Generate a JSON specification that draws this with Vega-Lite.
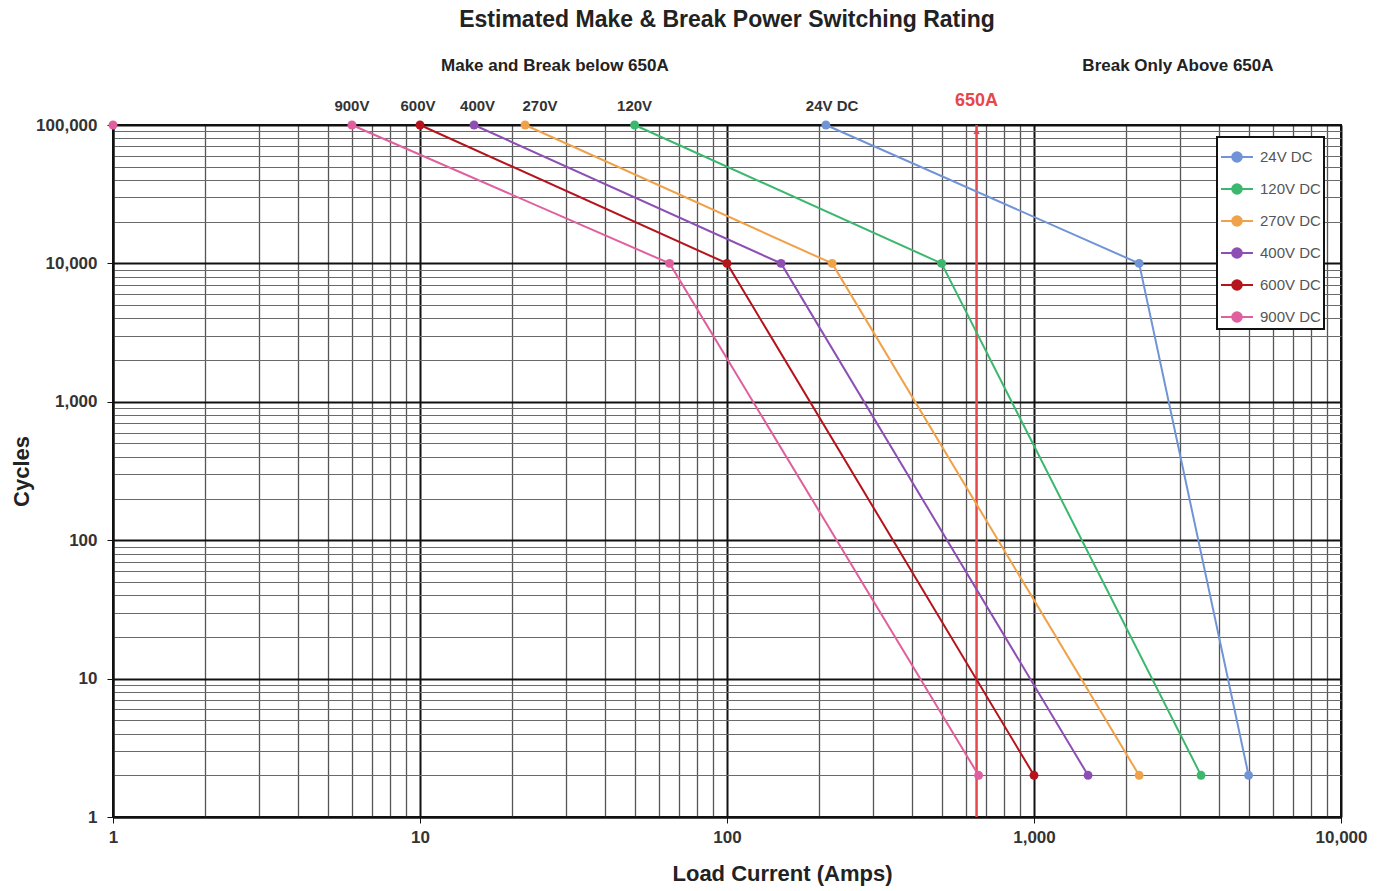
{
  "$schema": "https://vega.github.io/schema/vega-lite/v6.json",
  "width": 1228,
  "height": 692,
  "autosize": {"type": "none"},
  "padding": {"left": 113, "top": 125, "right": 46, "bottom": 74},
  "title": {"text": "Estimated Make & Break Power Switching Rating", "fontSize": 23, "font": "Liberation Sans", "fontWeight": "bold", "color": "#222", "offset": 25},
  "config": {
    "font": "Liberation Sans",
    "view": {"stroke": "#111", "strokeWidth": 2},
    "axis": {
      "labelFont": "Liberation Sans", "labelFontWeight": "bold", "labelColor": "#333", "labelFontSize": 17,
      "titleFont": "Liberation Sans", "titleFontWeight": "bold", "titleColor": "#222", "titleFontSize": 22,
      "domainColor": "#111", "domainWidth": 2, "tickColor": "#111", "tickSize": 6,
      "labelOverlap": false, "labelBound": false, "labelFlush": false
    }
  },
  "datasets": {
    "series": [
      {"s": "24V DC", "x": 210, "y": 100000}, {"s": "24V DC", "x": 2200, "y": 10000}, {"s": "24V DC", "x": 5000, "y": 2},
      {"s": "120V DC", "x": 50, "y": 100000}, {"s": "120V DC", "x": 500, "y": 10000}, {"s": "120V DC", "x": 3500, "y": 2},
      {"s": "270V DC", "x": 22, "y": 100000}, {"s": "270V DC", "x": 220, "y": 10000}, {"s": "270V DC", "x": 2200, "y": 2},
      {"s": "400V DC", "x": 15, "y": 100000}, {"s": "400V DC", "x": 150, "y": 10000}, {"s": "400V DC", "x": 1500, "y": 2},
      {"s": "600V DC", "x": 10, "y": 100000}, {"s": "600V DC", "x": 100, "y": 10000}, {"s": "600V DC", "x": 1000, "y": 2},
      {"s": "900V DC", "x": 6, "y": 100000}, {"s": "900V DC", "x": 65, "y": 10000}, {"s": "900V DC", "x": 660, "y": 2}
    ],
    "extra": [{"x": 1, "y": 100000}],
    "limit": [{"x": 650, "y": 1}, {"x": 650, "y": 100000}],
    "arrow": [{"x": 650, "y": 90000}],
    "vlabels": [
      {"t": "900V", "x": 6, "y": 100000},
      {"t": "600V", "x": 9.85, "y": 100000},
      {"t": "400V", "x": 15.4, "y": 100000},
      {"t": "270V", "x": 24.6, "y": 100000},
      {"t": "120V", "x": 50, "y": 100000},
      {"t": "24V DC", "x": 220, "y": 100000}
    ],
    "headers": [
      {"t": "Make and Break below 650A", "x": 27.5, "y": 100000},
      {"t": "Break Only Above 650A", "x": 2944, "y": 100000}
    ],
    "limitlabel": [{"t": "650A", "x": 650, "y": 100000}]
  },
  "encoding": {
    "x": {
      "field": "x", "type": "quantitative",
      "scale": {"type": "log", "domain": [1, 10000], "nice": false},
      "axis": {
        "title": "Load Current (Amps)", "titlePadding": 18, "labelPadding": 6, "titleX": 669, "titleAlign": "center",
        "values": [1,2,3,4,5,6,7,8,9,10,20,30,40,50,60,70,80,90,100,200,300,400,500,600,700,800,900,1000,2000,3000,4000,5000,6000,7000,8000,9000,10000],
        "labelExpr": "indexof([1,10,100,1000,10000], datum.value) >= 0 ? format(datum.value, ',') : ''",
        "tickOpacity": {"condition": {"test": "indexof([1,10,100,1000,10000], datum.value) >= 0", "value": 1}, "value": 0},
        "gridColor": {"condition": {"test": "indexof([1,10,100,1000,10000], datum.value) >= 0", "value": "#111"}, "value": "#555"},
        "gridWidth": {"condition": {"test": "indexof([1,10,100,1000,10000], datum.value) >= 0", "value": 2}, "value": 1.3},
        "gridOpacity": 1
      }
    },
    "y": {
      "field": "y", "type": "quantitative",
      "scale": {"type": "log", "domain": [1, 100000], "nice": false},
      "axis": {
        "title": "Cycles", "titlePadding": 2, "labelPadding": 10,
        "values": [1,2,3,4,5,6,7,8,9,10,20,30,40,50,60,70,80,90,100,200,300,400,500,600,700,800,900,1000,2000,3000,4000,5000,6000,7000,8000,9000,10000,20000,30000,40000,50000,60000,70000,80000,90000,100000],
        "labelExpr": "indexof([1,10,100,1000,10000,100000], datum.value) >= 0 ? format(datum.value, ',') : ''",
        "tickOpacity": {"condition": {"test": "indexof([1,10,100,1000,10000,100000], datum.value) >= 0", "value": 1}, "value": 0},
        "gridColor": {"condition": {"test": "indexof([1,10,100,1000,10000,100000], datum.value) >= 0", "value": "#111"}, "value": "#6a6a6a"},
        "gridWidth": {"condition": {"test": "indexof([1,10,100,1000,10000,100000], datum.value) >= 0", "value": 2}, "value": 1},
        "gridOpacity": 1
      }
    }
  },
  "layer": [
    {
      "data": {"name": "limit"},
      "mark": {"type": "line", "color": "#e8474a", "strokeWidth": 2.5},
      "encoding": {}
    },
    {
      "data": {"name": "arrow"},
      "mark": {"type": "point", "shape": "triangle-up", "filled": true, "color": "#e8474a", "size": 40, "opacity": 1},
      "encoding": {}
    },
    {
      "data": {"name": "series"},
      "mark": {"type": "line", "strokeWidth": 2},
      "encoding": {
        "color": {
          "field": "s", "type": "nominal",
          "scale": {"domain": ["24V DC", "120V DC", "270V DC", "400V DC", "600V DC", "900V DC"], "range": ["#7094d6", "#3cb86e", "#f0a24a", "#8e4fb5", "#b5141c", "#e0609f"]},
          "legend": {
            "title": null, "orient": "none", "legendX": 1104, "legendY": 12,
            "strokeColor": "#111", "fillColor": "#fff", "padding": 3,
            "symbolType": "M-1,0L1,0M0.3,0A0.3,0.3,0,1,1,-0.3,0A0.3,0.3,0,1,1,0.3,0Z",
            "symbolSize": 1024, "symbolStrokeWidth": 2, "rowPadding": 6,
            "labelFont": "Liberation Sans", "labelFontSize": 15, "labelColor": "#555", "labelOffset": 6,
            "encode": {
              "legend": {"update": {"strokeWidth": {"value": 2}}},
              "symbols": {"update": {"fill": {"scale": "color", "field": "value"}, "stroke": {"scale": "color", "field": "value"}, "fillOpacity": {"value": 1}, "opacity": {"value": 1}}}
            }
          }
        },
        "order": {"field": "y", "sort": "descending"}
      }
    },
    {
      "data": {"name": "series"},
      "mark": {"type": "point", "filled": true, "size": 80, "opacity": 1},
      "encoding": {"color": {"field": "s", "type": "nominal"}}
    },
    {
      "data": {"name": "extra"},
      "mark": {"type": "point", "filled": true, "size": 80, "opacity": 1, "color": "#e0609f"},
      "encoding": {}
    },
    {
      "data": {"name": "vlabels"},
      "mark": {"type": "text", "dy": -19, "fontSize": 15, "fontWeight": "bold", "color": "#333", "font": "Liberation Sans"},
      "encoding": {"text": {"field": "t"}}
    },
    {
      "data": {"name": "headers"},
      "mark": {"type": "text", "dy": -59, "fontSize": 17, "fontWeight": "bold", "color": "#222", "font": "Liberation Sans"},
      "encoding": {"text": {"field": "t"}}
    },
    {
      "data": {"name": "limitlabel"},
      "mark": {"type": "text", "dy": -24, "fontSize": 18, "fontWeight": "bold", "color": "#e8474a", "font": "Liberation Sans"},
      "encoding": {"text": {"field": "t"}}
    }
  ]
}
